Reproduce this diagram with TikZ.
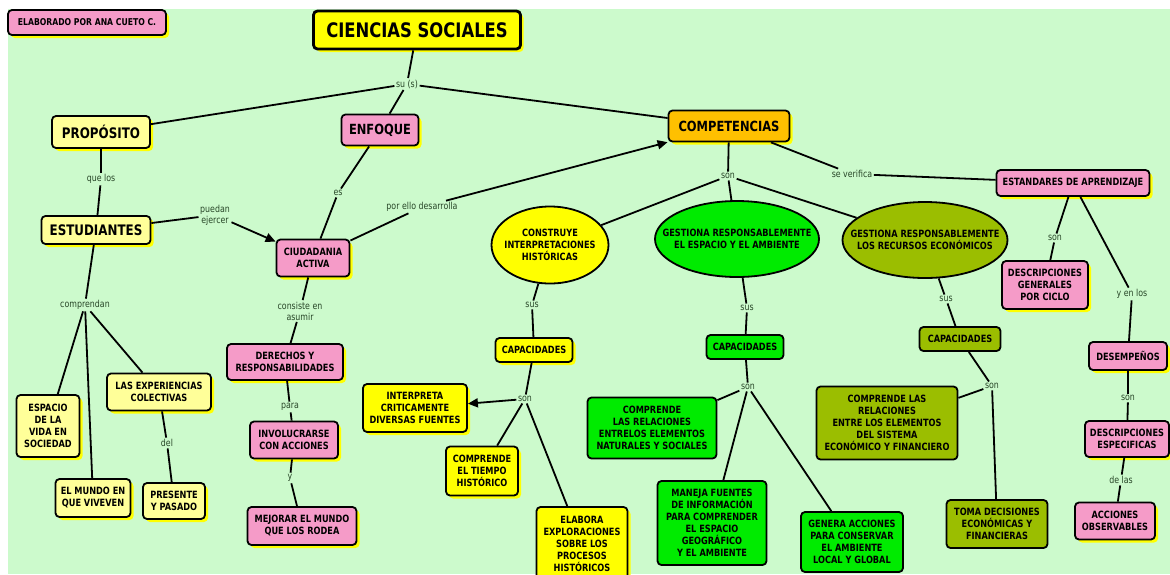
\documentclass[tikz,border=0pt]{standalone}
\usepackage{fontspec}
\setmainfont{DejaVu Sans}[FakeStretch=0.82]
\usetikzlibrary{shapes.geometric,arrows.meta,shadows}
\definecolor{bg}{RGB}{204,250,204}
\definecolor{pinkc}{RGB}{245,155,200}
\definecolor{lyel}{RGB}{255,255,153}
\definecolor{yel}{RGB}{255,255,0}
\definecolor{orng}{RGB}{255,192,0}
\definecolor{grn}{RGB}{0,235,0}
\definecolor{oliv}{RGB}{155,190,0}
\definecolor{lblc}{RGB}{40,70,40}
\tikzset{
  box/.style={draw=black, line width=1.8pt, rounded corners=4pt, align=center,
    inner sep=2pt, font=\bfseries\fontsize{10}{12}\selectfont},
  shad/.style={drop shadow={shadow xshift=3pt, shadow yshift=-3pt, fill=yel, opacity=1}},
  pk/.style={box, shad, fill=pinkc},
  ly/.style={box, shad, fill=lyel},
  yb/.style={box, shad, fill=yel},
  gb/.style={box, fill=grn},
  ob/.style={box, fill=oliv},
  big/.style={font=\bfseries\fontsize{14.5}{17}\selectfont},
  ell/.style={ellipse, draw=black, line width=1.8pt, align=center, inner xsep=-24pt, inner ysep=-4pt,
    font=\bfseries\fontsize{10}{12}\selectfont},
  lbl/.style={font=\fontsize{9.6}{11}\selectfont, text=lblc, inner sep=1.5pt, align=center},
  ln/.style={line width=1.8pt, draw=black},
  arr/.style={ln, -{Triangle[length=10pt,width=9pt]}}
}
\begin{document}
\begin{tikzpicture}[x=1pt,y=-1pt]
\useasboundingbox (0,0) rectangle (1170,574);
\fill[white] (0,0) rectangle (1170,574);
\fill[bg] (8,9) rectangle (1170,574);

% main boxes
\node[pk, font=\bfseries\fontsize{9.4}{12}\selectfont, minimum width=158pt, minimum height=25pt] (elab) at (87,22.5) {ELABORADO POR ANA CUETO C.};
\node[yb, line width=2.8pt, font=\bfseries\fontsize{20}{24}\selectfont, minimum width=207pt, minimum height=38pt] (cs) at (417,30) {CIENCIAS SOCIALES};
\node[ly, big, minimum width=98pt, minimum height=32pt] (prop) at (101,132) {PROPÓSITO};
\node[pk, font=\bfseries\fontsize{14}{17}\selectfont, minimum width=77pt, minimum height=31pt] (enf) at (380,130) {ENFOQUE};
\node[box, shad, fill=orng, font=\bfseries\fontsize{14}{17}\selectfont, minimum width=121pt, minimum height=31pt] (compet) at (729,126) {COMPETENCIAS};
\node[ly, big, minimum width=109pt, minimum height=28pt] (est) at (96,230) {ESTUDIANTES};
\node[pk, minimum width=73pt, minimum height=37pt] (ciud) at (313,258) {CIUDADANIA\\ACTIVA};
\node[pk, minimum width=153pt, minimum height=26pt] (estand) at (1073,183) {ESTANDARES DE APRENDIZAJE};

% ellipses
\node[ell, fill=yel, minimum width=117pt, minimum height=77pt] (e1) at (550,245) {CONSTRUYE\\INTERPRETACIONES\\HISTÓRICAS};
\node[ell, fill=grn, minimum width=164pt, minimum height=76pt] (e2) at (737,239) {GESTIONA RESPONSABLEMENTE\\EL ESPACIO Y EL AMBIENTE};
\node[ell, fill=oliv, minimum width=165pt, minimum height=76pt] (e3) at (925,240) {GESTIONA RESPONSABLEMENTE\\LOS RECURSOS ECONÓMICOS};

% left branch
\node[pk, minimum width=116pt, minimum height=36pt] (der) at (285,362) {DERECHOS Y\\RESPONSABILIDADES};
\node[pk, minimum width=88pt, minimum height=37pt] (inv) at (294,440) {INVOLUCRARSE\\CON ACCIONES};
\node[pk, minimum width=109pt, minimum height=38pt] (mej) at (302,526) {MEJORAR EL MUNDO\\QUE LOS RODEA};
\node[ly, minimum width=104pt, minimum height=37pt] (exper) at (159,392) {LAS EXPERIENCIAS\\COLECTIVAS};
\node[ly, minimum width=63pt, minimum height=62pt] (espacio) at (48,426) {ESPACIO\\DE LA\\VIDA EN\\SOCIEDAD};
\node[ly, minimum width=75pt, minimum height=38pt] (mundo) at (93,498) {EL MUNDO EN\\QUE VIVEVEN};
\node[ly, minimum width=62pt, minimum height=36pt] (pres) at (174,501) {PRESENTE\\Y PASADO};

% yellow competence
\node[yb, minimum width=77pt, minimum height=24pt] (capY) at (534,350) {CAPACIDADES};
\node[yb, minimum width=104pt, minimum height=48pt] (interp) at (415,408) {INTERPRETA\\CRITICAMENTE\\DIVERSAS FUENTES};
\node[yb, minimum width=72pt, minimum height=49pt] (tiempo) at (482,471) {COMPRENDE\\EL TIEMPO\\HISTÓRICO};
\node[yb, minimum width=91pt, minimum height=73pt] (elabora) at (582,543.5) {ELABORA\\EXPLORACIONES\\SOBRE LOS\\PROCESOS\\HISTÓRICOS};

% green competence
\node[gb, minimum width=77pt, minimum height=24pt] (capG) at (745,347) {CAPACIDADES};
\node[gb, minimum width=129pt, minimum height=61pt] (compG) at (652,428) {COMPRENDE\\LAS RELACIONES\\ENTRELOS ELEMENTOS\\NATURALES Y SOCIALES};
\node[gb, minimum width=109pt, minimum height=84pt] (maneja) at (712,523) {MANEJA FUENTES\\DE INFORMACIÓN\\PARA COMPRENDER\\EL ESPACIO\\GEOGRÁFICO\\Y EL AMBIENTE};
\node[gb, minimum width=102pt, minimum height=60pt] (genera) at (852,542) {GENERA ACCIONES\\PARA CONSERVAR\\EL AMBIENTE\\LOCAL Y GLOBAL};

% olive competence
\node[ob, minimum width=81pt, minimum height=24pt] (capO) at (960,339) {CAPACIDADES};
\node[ob, minimum width=141pt, minimum height=73pt] (compO) at (887,423) {COMPRENDE LAS\\RELACIONES\\ENTRE LOS ELEMENTOS\\DEL SISTEMA\\ECONÓMICO Y FINANCIERO};
\node[ob, minimum width=101pt, minimum height=48pt] (toma) at (997,524) {TOMA DECISIONES\\ECONÓMICAS Y\\FINANCIERAS};

% standards
\node[pk, minimum width=86pt, minimum height=48pt] (descgen) at (1045,285) {DESCRIPCIONES\\GENERALES\\POR CICLO};
\node[pk, minimum width=78pt, minimum height=28pt] (desemp) at (1128,356) {DESEMPEÑOS};
\node[pk, minimum width=84pt, minimum height=36pt] (descesp) at (1127,439) {DESCRIPCIONES\\ESPECIFICAS};
\node[pk, minimum width=80pt, minimum height=37pt] (acc) at (1115,521) {ACCIONES\\OBSERVABLES};

% link labels
\node[lbl] (su) at (407,84) {su (s)};
\node[lbl] (quelos) at (101,179) {que los};
\node[lbl] (es) at (338,193) {es};
\node[lbl] (puedan) at (215,215) {puedan\\ejercer};
\node[lbl] (porello) at (422,207) {por ello desarrolla};
\node[lbl] (son1) at (728,176) {son};
\node[lbl] (sever) at (852,174) {se verifica};
\node[lbl] (comp) at (85,305) {comprendan};
\node[lbl] (consiste) at (300,311) {consiste en\\asumir};
\node[lbl] (susY) at (532,305) {sus};
\node[lbl] (susG) at (747,308) {sus};
\node[lbl] (susO) at (946,299) {sus};
\node[lbl] (sonEst) at (1055,238) {son};
\node[lbl] (yenlos) at (1132,294) {y en los};
\node[lbl] (del) at (167,443) {del};
\node[lbl] (para) at (290,407) {para};
\node[lbl] (yy) at (290,478) {y};
\node[lbl] (sonY) at (525,399) {son};
\node[lbl] (sonG) at (748,387) {son};
\node[lbl] (sonO) at (992,386) {son};
\node[lbl] (sonD) at (1128,398) {son};
\node[lbl] (delas) at (1121,480) {de las};

% connectors
\draw[ln] (cs) -- (su);
\draw[ln] (su) -- (prop);
\draw[ln] (su) -- (enf);
\draw[ln] (su) -- (compet);
\draw[ln] (prop) -- (quelos);
\draw[ln] (quelos) -- (est);
\draw[ln] (est) -- (puedan);
\draw[arr] (puedan) -- (ciud);
\draw[ln] (enf) -- (es);
\draw[ln] (es) -- (ciud);
\draw[ln] (ciud) -- (porello);
\draw[arr] (porello) -- (compet);
\draw[ln] (est) -- (comp);
\draw[ln] (comp) -- (espacio);
\draw[ln] (comp) -- (mundo);
\draw[ln] (comp) -- (exper);
\draw[ln] (exper) -- (del);
\draw[ln] (del) -- (pres);
\draw[ln] (ciud) -- (consiste);
\draw[ln] (consiste) -- (der);
\draw[ln] (der) -- (para);
\draw[ln] (para) -- (inv);
\draw[ln] (inv) -- (yy);
\draw[ln] (yy) -- (mej);
\draw[ln] (compet) -- (son1);
\draw[ln] (son1) -- (e1);
\draw[ln] (son1) -- (e2);
\draw[ln] (son1) -- (e3);
\draw[ln] (compet) -- (sever);
\draw[ln] (sever) -- (estand);
\draw[ln] (estand) -- (sonEst);
\draw[ln] (sonEst) -- (descgen);
\draw[ln] (estand) -- (yenlos);
\draw[ln] (yenlos) -- (desemp);
\draw[ln] (desemp) -- (sonD);
\draw[ln] (sonD) -- (descesp);
\draw[ln] (descesp) -- (delas);
\draw[ln] (delas) -- (acc);
\draw[ln] (e1) -- (susY);
\draw[ln] (susY) -- (capY);
\draw[ln] (capY) -- (sonY);
\draw[arr] (sonY) -- (interp);
\draw[ln] (sonY) -- (tiempo);
\draw[ln] (sonY) -- (elabora);
\draw[ln] (e2) -- (susG);
\draw[ln] (susG) -- (capG);
\draw[ln] (capG) -- (sonG);
\draw[ln] (sonG) -- (compG);
\draw[ln] (sonG) -- (maneja);
\draw[ln] (sonG) -- (genera);
\draw[ln] (e3) -- (susO);
\draw[ln] (susO) -- (capO);
\draw[ln] (capO) -- (sonO);
\draw[ln] (sonO) -- (compO);
\draw[ln] (sonO) -- (toma);
\end{tikzpicture}
\end{document}
